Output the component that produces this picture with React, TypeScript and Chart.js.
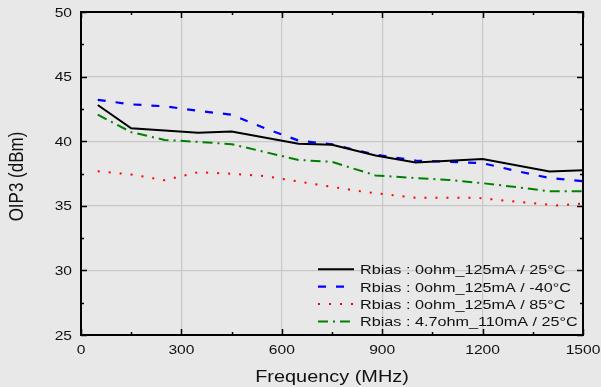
import React, { useEffect, useRef } from "react";
import { Chart, registerables } from "chart.js";

Chart.register(...registerables);

const xTickValues = [0, 300, 600, 900, 1200, 1500];
const yTickValues = [25, 30, 35, 40, 45, 50];
const xTitle = "Frequency (MHz)";
const yTitle = "OIP3 (dBm)";

const seriesLabels = [
  "Rbias : 0ohm_125mA / 25°C",
  "Rbias : 0ohm_125mA / -40°C",
  "Rbias : 0ohm_125mA / 85°C",
  "Rbias : 4.7ohm_110mA / 25°C",
];

const freqBlack = [50, 150, 350, 450, 650, 750, 880, 1000, 1200, 1400, 1500];
const oip3Black = [42.8, 41.0, 40.65, 40.75, 39.8, 39.72, 38.9, 38.35, 38.63, 37.65, 37.75];

const freqBlue = [50, 150, 250, 350, 450, 550, 650, 750, 880, 1000, 1100, 1200, 1300, 1400, 1500];
const oip3Blue = [43.2, 42.85, 42.7, 42.35, 42.05, 41.0, 40.05, 39.75, 38.95, 38.5, 38.4, 38.3, 37.7, 37.15, 36.9];

const freqRed = [50, 150, 250, 350, 450, 550, 650, 750, 850, 950, 1000, 1180, 1420, 1500];
const oip3Red = [37.67, 37.42, 36.98, 37.6, 37.48, 37.3, 36.88, 36.47, 36.06, 35.76, 35.63, 35.62, 35.03, 35.17];

const freqGreen = [50, 150, 250, 350, 450, 650, 750, 880, 1000, 1100, 1200, 1300, 1400, 1500];
const oip3Green = [42.05, 40.7, 40.1, 39.95, 39.77, 38.55, 38.4, 37.35, 37.15, 37.0, 36.75, 36.45, 36.12, 36.12];

const toPoints = (xs: number[], ys: number[]) => xs.map((x, i) => ({ x, y: ys[i] }));

const FONT = "'Liberation Sans', Arial, sans-serif";
const TEXT = "#111111";
const SX = 1.2; // horizontal stretch of the reference's text

function stretchedText(
  ctx: CanvasRenderingContext2D,
  text: string,
  x: number,
  y: number,
  size: number,
  align: "left" | "right" | "center",
  sx: number
) {
  ctx.save();
  ctx.font = `${size}px ${FONT}`;
  ctx.fillStyle = TEXT;
  ctx.textBaseline = "alphabetic";
  ctx.textAlign = "left";
  const w = ctx.measureText(text).width * sx;
  let left = x;
  if (align === "right") left = x - w;
  if (align === "center") left = x - w / 2;
  ctx.translate(left, y + size * 0.716 / 2);
  ctx.scale(sx, 1);
  ctx.fillText(text, 0, 0);
  ctx.restore();
}

const bgPlugin = {
  id: "bg",
  beforeDraw(chart: any) {
    const ctx = chart.ctx;
    ctx.save();
    ctx.fillStyle = "#e8e8e8";
    ctx.fillRect(0, 0, chart.width, chart.height);
    ctx.restore();
  },
};

const framePlugin = {
  id: "frame",
  afterDatasetsDraw(chart: any) {
    const { ctx, chartArea: a, scales } = chart;
    const xs = scales.x;
    const ys = scales.y;
    ctx.save();
    ctx.strokeStyle = "#000";
    ctx.lineWidth = 2;
    ctx.strokeRect(a.left, a.top, a.right - a.left, a.bottom - a.top);
    ctx.lineWidth = 1.5;
    ctx.beginPath();
    for (let v = 0; v <= 1500; v += 150) {
      const px = Math.round(xs.getPixelForValue(v)) + 0.5;
      const len = v % 300 === 0 ? 6 : 3;
      ctx.moveTo(px, a.bottom);
      ctx.lineTo(px, a.bottom - len);
      ctx.moveTo(px, a.top);
      ctx.lineTo(px, a.top + len);
    }
    for (let v = 25; v <= 50; v += 2.5) {
      const py = Math.round(ys.getPixelForValue(v)) + 0.5;
      const len = v % 5 === 0 ? 6 : 3;
      ctx.moveTo(a.left, py);
      ctx.lineTo(a.left + len, py);
      ctx.moveTo(a.right, py);
      ctx.lineTo(a.right - len, py);
    }
    ctx.stroke();
    ctx.restore();

    // tick labels
    xTickValues.forEach((v) => {
      stretchedText(ctx, String(v), xs.getPixelForValue(v), a.bottom + 14, 13, "center", SX);
    });
    yTickValues.forEach((v) => {
      stretchedText(ctx, String(v), a.left - 9, ys.getPixelForValue(v), 13, "right", SX);
    });

    // axis titles
    stretchedText(ctx, xTitle, (a.left + a.right) / 2, 376, 17, "center", 1.17);
    ctx.save();
    ctx.translate(18, (a.top + a.bottom) / 2 + 3);
    ctx.rotate(-Math.PI / 2);
    ctx.scale(1, 1.17);
    ctx.font = `17px ${FONT}`;
    ctx.fillStyle = TEXT;
    ctx.textAlign = "center";
    ctx.textBaseline = "middle";
    ctx.fillText(yTitle, 0, 0);
    ctx.restore();

    // legend
    const rowY = [269.3, 286.7, 304.1, 321.5];
    chart.data.datasets.forEach((ds: any, i: number) => {
      const y = rowY[i];
      ctx.save();
      ctx.strokeStyle = ds.borderColor;
      ctx.lineWidth = ds.borderWidth;
      ctx.setLineDash(ds.borderDash || []);
      ctx.beginPath();
      ctx.moveTo(318, y);
      ctx.lineTo(354, y);
      ctx.stroke();
      ctx.restore();
      stretchedText(ctx, ds.label, 360, y, 13.5, "left", SX);
    });
  },
};

export default function App() {
  const ref = useRef<HTMLCanvasElement | null>(null);

  useEffect(() => {
    document.body.style.margin = "0";
    const canvas = ref.current;
    if (!canvas) return;
    const chart = new Chart(canvas, {
      type: "line",
      data: {
        datasets: [
          {
            label: seriesLabels[0],
            data: toPoints(freqBlack, oip3Black),
            borderColor: "#000000",
            borderWidth: 2,
            pointRadius: 0,
            tension: 0,
          },
          {
            label: seriesLabels[1],
            data: toPoints(freqBlue, oip3Blue),
            borderColor: "#0000ff",
            borderWidth: 2.2,
            borderDash: [8, 10],
            pointRadius: 0,
            tension: 0,
          },
          {
            label: seriesLabels[2],
            data: toPoints(freqRed, oip3Red),
            borderColor: "#ff0000",
            borderWidth: 2,
            borderDash: [2, 9],
            pointRadius: 0,
            tension: 0,
          },
          {
            label: seriesLabels[3],
            data: toPoints(freqGreen, oip3Green),
            borderColor: "#008000",
            borderWidth: 2,
            borderDash: [10, 5, 2, 5],
            pointRadius: 0,
            tension: 0,
          },
        ],
      },
      options: {
        animation: false,
        responsive: false,
        maintainAspectRatio: false,
        layout: { padding: { top: 12, right: 18, left: 0, bottom: 0 } },
        plugins: { legend: { display: false }, tooltip: { enabled: false } },
        scales: {
          x: {
            type: "linear",
            min: 0,
            max: 1500,
            afterBuildTicks: (s: any) => {
              s.ticks = xTickValues.map((v) => ({ value: v }));
            },
            afterFit: (s: any) => {
              s.height = 52;
              s.paddingLeft = 0;
              s.paddingRight = 0;
            },
            grid: { color: "#c8c8c8", lineWidth: 1.2, drawTicks: false },
            border: { display: false },
            ticks: { display: false },
          },
          y: {
            type: "linear",
            min: 25,
            max: 50,
            afterBuildTicks: (s: any) => {
              s.ticks = yTickValues.map((v) => ({ value: v }));
            },
            afterFit: (s: any) => {
              s.width = 81;
              s.paddingTop = 0;
              s.paddingBottom = 0;
            },
            grid: { color: "#c8c8c8", lineWidth: 1.2, drawTicks: false },
            border: { display: false },
            ticks: { display: false },
          },
        },
      },
      plugins: [bgPlugin, framePlugin],
    });
    return () => chart.destroy();
  }, []);

  return <canvas ref={ref} width={601} height={387} style={{ display: "block" }} />;
}
